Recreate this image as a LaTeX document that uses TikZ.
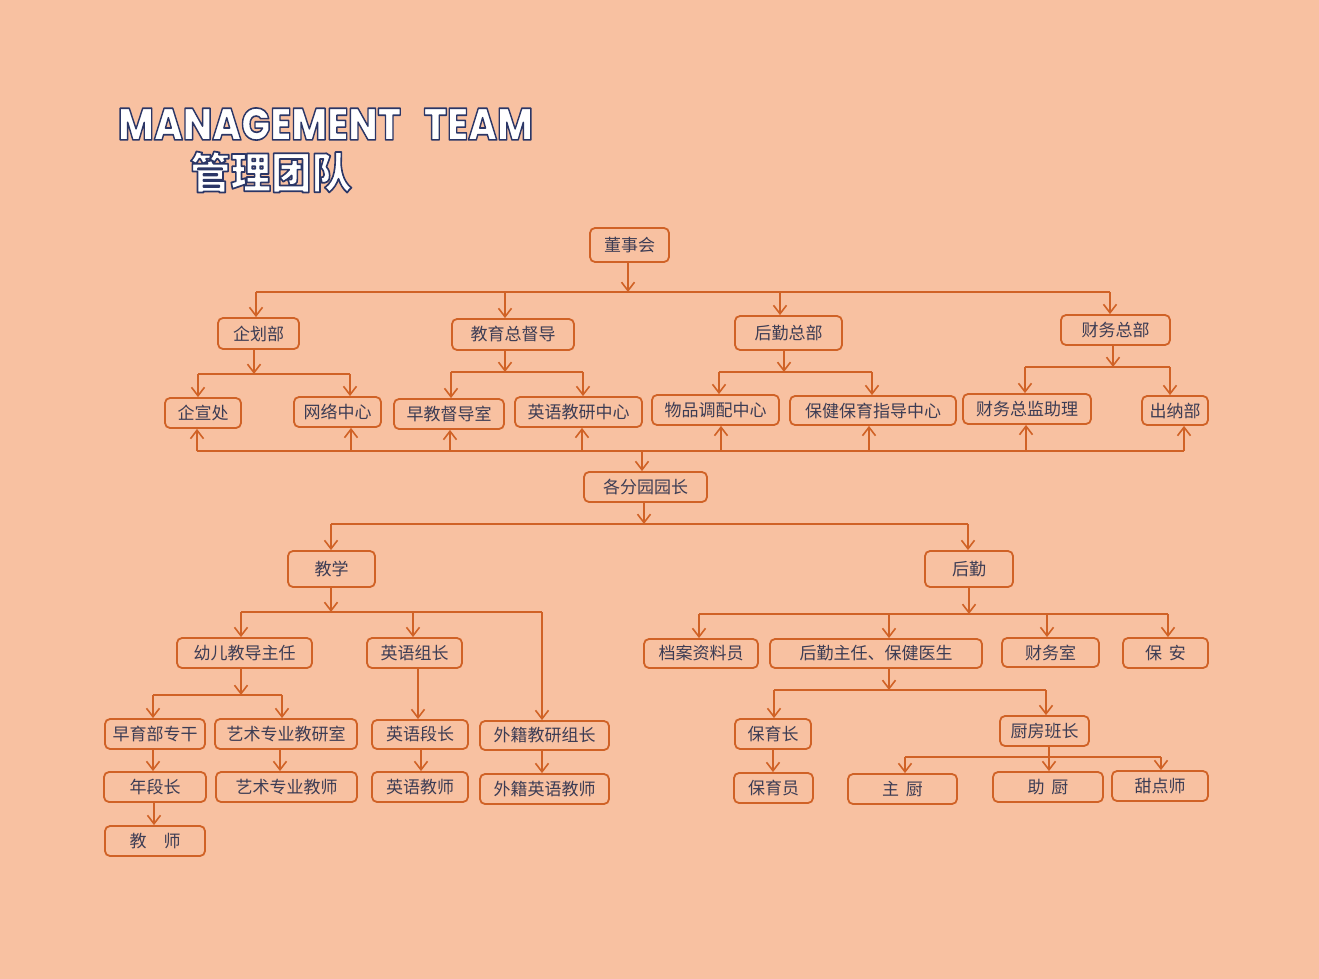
\documentclass[tikz,border=0pt]{standalone}
\usepackage{fontspec}
\usetikzlibrary{arrows.meta}
\newfontfamily\cjk{Noto Sans CJK SC}
\IfFontExistsTF{Poppins ExtraBold}{\newfontfamily\titlefont{Poppins ExtraBold}}{%
  \IfFontExistsTF{Poppins Bold}{\newfontfamily\titlefont{Poppins Bold}}{\newfontfamily\titlefont{Poppins}}}
\IfFontExistsTF{Noto Sans CJK SC Black}{\newfontfamily\cjkttl{Noto Sans CJK SC Black}}{%
  \IfFontExistsTF{Noto Sans CJK SC Bold}{\newfontfamily\cjkttl{Noto Sans CJK SC Bold}}{\newfontfamily\cjkttl{Noto Sans CJK SC}}}
\definecolor{bg}{RGB}{248,193,161}
\definecolor{lc}{RGB}{208,98,38}
\definecolor{tc}{RGB}{60,60,84}
\newcommand\outl{\special{pdf:literal direct 2 Tr 1.6 w 1 j 0.17 0.21 0.40 RG}}
\newcommand\entitle{\resizebox{415pt}{32pt}{\outl\titlefont\fontsize{44}{44}\selectfont MANAGEMENT\hspace{0.6em}TEAM}}
\newcommand\cntitle{\resizebox{162pt}{37pt}{\outl\cjkttl\fontsize{40}{40}\selectfont 管理团队}}
\begin{document}
\begin{tikzpicture}[x=1pt,y=-1pt,
  arr/.style={lc, line width=1.8pt, -{Straight Barb[length=8.5pt,width=13pt,line width=1.6pt]}},
  ln/.style={lc, line width=1.8pt},
  box/.style={draw=lc, line width=1.8pt, rounded corners=5pt, inner sep=0pt, text=tc,
    font=\cjk\fontsize{17}{17}\selectfont},
  ttl/.style={inner sep=0pt}]
\fill[bg] (0,0) rectangle (1319,979);
\useasboundingbox (0,0) rectangle (1319,979);

% ---------- title ----------
\node[ttl, text=white] (ten) at (325.5,124) {\entitle};
\node[ttl, text=white] (tcn) at (271,172) {\cntitle};

% ---------- nodes ----------
\node[box, minimum width=79pt, minimum height=34pt] (dsh) at (629.5,245) {董事会};
\node[box, minimum width=81pt, minimum height=31pt] (qhb) at (258.5,333.5) {企划部};
\node[box, minimum width=122pt, minimum height=31pt] (jyzdd) at (513,334.5) {教育总督导};
\node[box, minimum width=107pt, minimum height=34pt] (hqzb) at (788.5,333) {后勤总部};
\node[box, minimum width=109pt, minimum height=30pt] (cwzb) at (1115.5,330) {财务总部};
\node[box, minimum width=76pt, minimum height=30pt] (qxc) at (203,413) {企宣处};
\node[box, minimum width=87pt, minimum height=30pt] (wlzx) at (337.5,412) {网络中心};
\node[box, minimum width=110pt, minimum height=30pt] (zjdds) at (449,414) {早教督导室};
\node[box, minimum width=127pt, minimum height=30pt] (yyjyzx) at (578.5,412) {英语教研中心};
\node[box, minimum width=127pt, minimum height=30pt] (wpdpzx) at (715.5,410) {物品调配中心};
\node[box, minimum width=166pt, minimum height=29pt] (bjby) at (873,410.5) {保健保育指导中心};
\node[box, minimum width=128pt, minimum height=30pt] (cwzjzl) at (1027,409) {财务总监助理};
\node[box, minimum width=66pt, minimum height=29pt] (cnb) at (1175,410.5) {出纳部};
\node[box, minimum width=123pt, minimum height=30pt] (gfy) at (645.5,487) {各分园园长};
\node[box, minimum width=87pt, minimum height=36pt] (jx) at (331.5,569) {教学};
\node[box, minimum width=88pt, minimum height=36pt] (hq) at (969,569) {后勤};
\node[box, minimum width=135pt, minimum height=30pt] (yejdzr) at (244.5,653) {幼儿教导主任};
\node[box, minimum width=95pt, minimum height=30pt] (yyzz) at (414.5,653) {英语组长};
\node[box, minimum width=100pt, minimum height=30pt] (zybzg) at (155,734) {早育部专干};
\node[box, minimum width=142pt, minimum height=30pt] (ysjys) at (286,734) {艺术专业教研室};
\node[box, minimum width=96pt, minimum height=29pt] (yydz) at (420,734.5) {英语段长};
\node[box, minimum width=129pt, minimum height=29pt] (wjjyzz) at (544.5,735.5) {外籍教研组长};
\node[box, minimum width=102pt, minimum height=30pt] (ndz) at (155,787) {年段长};
\node[box, minimum width=141pt, minimum height=30pt] (yszyjs) at (286.5,787) {艺术专业教师};
\node[box, minimum width=96pt, minimum height=30pt] (yyjs) at (420,787) {英语教师};
\node[box, minimum width=129pt, minimum height=30pt] (wjyyjs) at (544.5,789) {外籍英语教师};
\node[box, minimum width=100pt, minimum height=30pt] (js) at (155,841) {教\hspace{1em}师};
\node[box, minimum width=114pt, minimum height=29pt] (dazly) at (701,653.5) {档案资料员};
\node[box, minimum width=212pt, minimum height=29pt] (hqzr) at (876,653.5) {后勤主任、保健医生};
\node[box, minimum width=97pt, minimum height=29pt] (cws) at (1050.5,652.5) {财务室};
\node[box, minimum width=85pt, minimum height=30pt] (ba) at (1165.5,653) {保\hspace{0.4em}安};
\node[box, minimum width=76pt, minimum height=30pt] (byz) at (773,734) {保育长};
\node[box, minimum width=89pt, minimum height=30pt] (cfbz) at (1044.5,731) {厨房班长};
\node[box, minimum width=79pt, minimum height=30pt] (byy) at (773.5,788) {保育员};
\node[box, minimum width=109pt, minimum height=30pt] (zc) at (902.5,789) {主\hspace{0.4em}厨};
\node[box, minimum width=110pt, minimum height=30pt] (zhc) at (1048,787) {助\hspace{0.4em}厨};
\node[box, minimum width=96pt, minimum height=30pt] (tds) at (1160,786) {甜点师};

% ---------- level 1 ----------
\coordinate (b1) at (628,292);
\coordinate (b1a) at (256,292);
\coordinate (b1b) at (505,292);
\coordinate (b1c) at (780,292);
\coordinate (b1d) at (1110,292);
\draw[arr] (b1 |- dsh.south) -- (b1);
\draw[ln] (b1a) -- (b1d);
\draw[arr] (b1a) -- (b1a |- qhb.north);
\draw[arr] (b1b) -- (b1b |- jyzdd.north);
\draw[arr] (b1c) -- (b1c |- hqzb.north);
\draw[arr] (b1d) -- (b1d |- cwzb.north);

% ---------- level 2 ----------
\coordinate (q0) at (254,374); \coordinate (qa) at (198,374); \coordinate (qb) at (350,374);
\draw[arr] (q0 |- qhb.south) -- (q0);
\draw[ln] (qa) -- (qb);
\draw[arr] (qa) -- (qa |- qxc.north);
\draw[arr] (qb) -- (qb |- wlzx.north);

\coordinate (e0) at (505,372); \coordinate (ea) at (451,372); \coordinate (eb) at (583,372);
\draw[arr] (e0 |- jyzdd.south) -- (e0);
\draw[ln] (ea) -- (eb);
\draw[arr] (ea) -- (ea |- zjdds.north);
\draw[arr] (eb) -- (eb |- yyjyzx.north);

\coordinate (h0) at (784,372); \coordinate (ha) at (719,372); \coordinate (hb) at (872,372);
\draw[arr] (h0 |- hqzb.south) -- (h0);
\draw[ln] (ha) -- (hb);
\draw[arr] (ha) -- (ha |- wpdpzx.north);
\draw[arr] (hb) -- (hb |- bjby.north);

\coordinate (c0) at (1113,367); \coordinate (ca) at (1025,367); \coordinate (cb) at (1170,367);
\draw[arr] (c0 |- cwzb.south) -- (c0);
\draw[ln] (ca) -- (cb);
\draw[arr] (ca) -- (ca |- cwzjzl.north);
\draw[arr] (cb) -- (cb |- cnb.north);

% ---------- bottom collector ----------
\coordinate (u1) at (197,451); \coordinate (u2) at (351,451);
\coordinate (u3) at (450,451); \coordinate (u4) at (582,451);
\coordinate (u5) at (721,451); \coordinate (u6) at (869,451);
\coordinate (u7) at (1026,451); \coordinate (u8) at (1184,451);
\coordinate (u0) at (642,451);
\draw[ln] (u1) -- (u8);
\draw[arr] (u1) -- (u1 |- qxc.south);
\draw[arr] (u2) -- (u2 |- wlzx.south);
\draw[arr] (u3) -- (u3 |- zjdds.south);
\draw[arr] (u4) -- (u4 |- yyjyzx.south);
\draw[arr] (u5) -- (u5 |- wpdpzx.south);
\draw[arr] (u6) -- (u6 |- bjby.south);
\draw[arr] (u7) -- (u7 |- cwzjzl.south);
\draw[arr] (u8) -- (u8 |- cnb.south);
\draw[arr] (u0) -- (u0 |- gfy.north);

% ---------- 各分园园长 ----------
\coordinate (g0) at (644,524); \coordinate (ga) at (331,524); \coordinate (gb) at (968,524);
\draw[arr] (g0 |- gfy.south) -- (g0);
\draw[ln] (ga) -- (gb);
\draw[arr] (ga) -- (ga |- jx.north);
\draw[arr] (gb) -- (gb |- hq.north);

% ---------- 教学 ----------
\coordinate (j0) at (331,612); \coordinate (ja) at (241,612);
\coordinate (jb) at (413,612); \coordinate (jc) at (542,612);
\draw[arr] (j0 |- jx.south) -- (j0);
\draw[ln] (ja) -- (jc);
\draw[arr] (ja) -- (ja |- yejdzr.north);
\draw[arr] (jb) -- (jb |- yyzz.north);
\draw[arr] (jc) -- (jc |- wjjyzz.north);

\coordinate (y0) at (241,695); \coordinate (ya) at (153,695); \coordinate (yb) at (282,695);
\draw[arr] (y0 |- yejdzr.south) -- (y0);
\draw[ln] (ya) -- (yb);
\draw[arr] (ya) -- (ya |- zybzg.north);
\draw[arr] (yb) -- (yb |- ysjys.north);

\coordinate (v1) at (418,0); \coordinate (v2) at (153,0); \coordinate (v3) at (280,0);
\coordinate (v4) at (421,0); \coordinate (v5) at (542,0); \coordinate (v6) at (154,0);
\draw[arr] (v1 |- yyzz.south) -- (v1 |- yydz.north);
\draw[arr] (v2 |- zybzg.south) -- (v2 |- ndz.north);
\draw[arr] (v3 |- ysjys.south) -- (v3 |- yszyjs.north);
\draw[arr] (v4 |- yydz.south) -- (v4 |- yyjs.north);
\draw[arr] (v5 |- wjjyzz.south) -- (v5 |- wjyyjs.north);
\draw[arr] (v6 |- ndz.south) -- (v6 |- js.north);

% ---------- 后勤 ----------
\coordinate (k0) at (969,614); \coordinate (ka) at (699,614); \coordinate (kb) at (889,614);
\coordinate (kc) at (1047,614); \coordinate (kd) at (1168,614);
\draw[arr] (k0 |- hq.south) -- (k0);
\draw[ln] (ka) -- (kd);
\draw[arr] (ka) -- (ka |- dazly.north);
\draw[arr] (kb) -- (kb |- hqzr.north);
\draw[arr] (kc) -- (kc |- cws.north);
\draw[arr] (kd) -- (kd |- ba.north);

\coordinate (m0) at (889,690); \coordinate (ma) at (774,690); \coordinate (mb) at (1046,690);
\draw[arr] (m0 |- hqzr.south) -- (m0);
\draw[ln] (ma) -- (mb);
\draw[arr] (ma) -- (ma |- byz.north);
\draw[arr] (mb) -- (mb |- cfbz.north);

\coordinate (w1) at (773,0);
\draw[arr] (w1 |- byz.south) -- (w1 |- byy.north);

\coordinate (n0) at (1049,757); \coordinate (na) at (905,757); \coordinate (nb) at (1161,757);
\draw[arr] (n0 |- cfbz.south) -- (n0 |- zhc.north);
\draw[ln] (na) -- (nb);
\draw[arr] (na) -- (na |- zc.north);
\draw[arr] (nb) -- (nb |- tds.north);
\end{tikzpicture}
\end{document}
